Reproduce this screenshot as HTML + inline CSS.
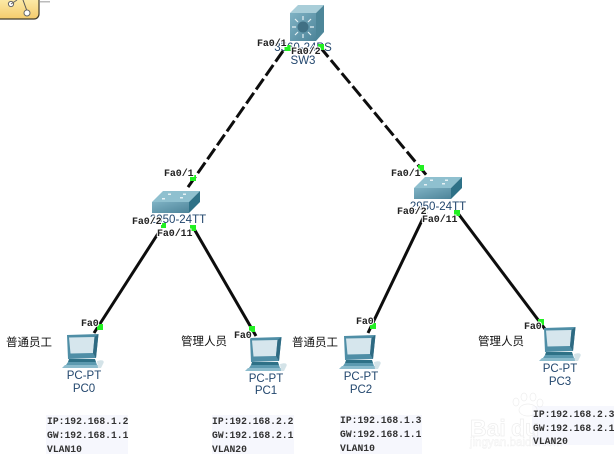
<!DOCTYPE html>
<html>
<head>
<meta charset="utf-8">
<style>
html,body{margin:0;padding:0;background:#fff;width:614px;height:464px;overflow:hidden}
svg{display:block}
.p{font:bold 10px "Liberation Mono",monospace;fill:#222;letter-spacing:-.1px;stroke:#fff;stroke-width:2px;paint-order:stroke}
.d{font:11.5px "Liberation Sans",sans-serif;fill:#24476e;text-anchor:middle}
.c{font:11.5px "Liberation Sans","Noto Sans CJK SC",sans-serif;fill:#111}
.i{font:bold 9.7px "Liberation Mono",monospace;fill:#333}
.w{font-family:"Liberation Sans",sans-serif;fill:#fff;stroke:#e2e2e2;stroke-width:.7}
</style>
</head>
<body>
<svg width="614" height="464" viewBox="0 0 614 464" xmlns="http://www.w3.org/2000/svg">
<defs>
<filter id="b" x="-5%" y="-5%" width="110%" height="110%"><feGaussianBlur stdDeviation=".3"/></filter>
<linearGradient id="fr" x1="0" y1="0" x2="1" y2="1"><stop offset="0" stop-color="#7fb2c4"/><stop offset="1" stop-color="#4d8499"/></linearGradient>
<linearGradient id="y" x1="0" y1="0" x2="0" y2="1"><stop offset="0" stop-color="#fff3b8"/><stop offset="1" stop-color="#f4cb6c"/></linearGradient>
<g id="pc">
<path d="M1 1 L32.500 0 L30 24 L2 25 Z" fill="#4f8ea6"/>
<path d="M3 3.500 L28.500 3 L27 19 L4.500 19.500 Z" fill="#d6e6ed"/>
<path d="M28.500 3 L32.500 0 L30 24 L27 19 Z" fill="#2e6a82"/>
<path d="M3 25 H29 L30 28 H2 Z" fill="#2f7187"/>
<path d="M2 28 H30 L31 31 H0 Z" fill="#5c9ab0"/>
<path d="M-1 31 H32 L34 34 H-4 Z" fill="#8cbccd"/>
<path d="M31 27 C37 25 39 27 37 30 L35 34 H32 Z" fill="#d4e3e8"/>
</g>
<g id="sw">
<path d="M0 11 L11 0 H48 L37 11 Z" fill="#8fc0cf"/>
<path d="M0 11 H37 V22 H0 Z" fill="url(#fr)"/>
<path d="M37 11 L48 0 V11 L37 22 Z" fill="#2f7187"/>
<g fill="#e6f1f4"><rect x="16" y="2.500" width="3" height="1.500"/><rect x="31" y="2.500" width="3" height="1.500"/><rect x="10" y="7" width="3" height="1.500"/><rect x="28" y="6" width="3" height="1.500"/></g>
</g>
</defs>
<g filter="url(#b)">
<rect x="-6" y="-6" width="45" height="25" rx="5" fill="url(#y)" stroke="#3f3a2c" stroke-width="1.2"/>
<path d="M23 0 L27 11" stroke="#555" fill="none"/>
<circle cx="27" cy="13" r="3" fill="#fff" stroke="#666"/>
<circle cx="11" cy="4" r="2.600" fill="#fff" stroke="#666"/>
<path d="M11 4 L17 0" stroke="#666"/>
<rect x="40" y="1" width="10" height="1.500" fill="#bbb"/>

<rect x="46" y="415" width="82" height="39" fill="#f6f7fd"/>
<rect x="212" y="415" width="82" height="39" fill="#f6f7fd"/>
<rect x="340" y="415" width="82" height="39" fill="#f6f7fd"/>
<rect x="532" y="406" width="82" height="39" fill="#f6f7fd"/>

<g opacity=".6">
<text class="w" x="470" y="436" font-size="23" font-weight="700">Bai</text>
<text class="w" x="511" y="436" font-size="23" font-weight="700">du</text>
<text class="w" x="470" y="446" font-size="11.500" style="stroke-width:.4">jingyan.baidu.com</text>
<g fill="#fff" stroke="#e2e2e2" stroke-width=".7">
<ellipse cx="516" cy="402" rx="3" ry="4"/><ellipse cx="524" cy="397" rx="3" ry="4"/><ellipse cx="533" cy="397" rx="3" ry="4"/><ellipse cx="540" cy="403" rx="3" ry="4"/>
<ellipse cx="528" cy="410" rx="9" ry="6"/>
</g>
</g>

<text class="d" x="303" y="51">3560-24PS</text>
<text class="d" x="303" y="64">SW3</text>
<text class="d" x="178" y="223">2950-24TT</text>
<text class="d" x="438" y="210">2950-24TT</text>

<g stroke="#111" stroke-width="3" fill="none">
<path d="M283 51 L186 190" stroke-dasharray="13 4"/>
<path d="M320 47 L428 177" stroke-dasharray="13 4"/>
<path d="M159 232 L94 333"/>
<path d="M193 227 L256 336"/>
<path d="M426 212 L368 333"/>
<path d="M457 212 L545 329"/>
</g>
<g fill="#20f020">
<rect x="284.500" y="45" width="6" height="6"/>
<rect x="318" y="44" width="6" height="6"/>
<rect x="190" y="175" width="6" height="6"/>
<rect x="418" y="165" width="6" height="6"/>
<rect x="161" y="223" width="5" height="5"/>
<rect x="190" y="225" width="6" height="6"/>
<rect x="422" y="208" width="4" height="5"/>
<rect x="454" y="210" width="6" height="6"/>
<rect x="97" y="324" width="6" height="6"/>
<rect x="249" y="326" width="6" height="6"/>
<rect x="370" y="323" width="6" height="6"/>
<rect x="538" y="319" width="6" height="6"/>
</g>

<path d="M290 13 L298 5 H324 L316 13 Z" fill="#a9ced9"/>
<path d="M316 13 L324 5 V32 L316 41 Z" fill="#4d8699"/>
<rect x="290" y="13" width="26" height="28" fill="url(#fr)"/>
<circle cx="303" cy="27" r="5.500" fill="#3f6f84"/>
<g stroke="#e4f0f4" stroke-width="1.2">
<path d="M303 16 V20 M303 34 V38 M292 27 H296 M310 27 H314 M295 19 L298 22 M308 32 L311 35 M311 19 L308 22 M298 32 L295 35"/>
</g>
<use href="#sw" x="152" y="191"/>
<use href="#sw" x="414" y="177"/>
<use href="#pc" x="66" y="334"/>
<use href="#pc" x="249" y="337"/>
<use href="#pc" x="343" y="335"/>
<use href="#pc" x="543" y="327"/>

<text class="p" x="257" y="46">Fa0/1</text>
<text class="p" x="291" y="54">Fa0/2</text>
<text class="p" x="164" y="176">Fa0/1</text>
<text class="p" x="132" y="224">Fa0/2</text>
<text class="p" x="157" y="236">Fa0/11</text>
<text class="p" x="391" y="176">Fa0/1</text>
<text class="p" x="397" y="214">Fa0/2</text>
<text class="p" x="422" y="222">Fa0/11</text>
<text class="p" x="81" y="326">Fa0</text>
<text class="p" x="234" y="338">Fa0</text>
<text class="p" x="356" y="324">Fa0</text>
<text class="p" x="524" y="329">Fa0</text>

<text class="d" x="84" y="379">PC-PT</text>
<text class="d" x="84" y="392">PC0</text>
<text class="d" x="266" y="382">PC-PT</text>
<text class="d" x="266" y="394">PC1</text>
<text class="d" x="361" y="380">PC-PT</text>
<text class="d" x="361" y="393">PC2</text>
<text class="d" x="560" y="372">PC-PT</text>
<text class="d" x="560" y="385">PC3</text>

<text class="c" x="6" y="346">普通员工</text>
<text class="c" x="181" y="345">管理人员</text>
<text class="c" x="292" y="346">普通员工</text>
<text class="c" x="478" y="345">管理人员</text>

<text class="i" x="47" y="424">IP:192.168.1.2</text>
<text class="i" x="47" y="438">GW:192.168.1.1</text>
<text class="i" x="47" y="452">VLAN10</text>
<text class="i" x="212" y="424">IP:192.168.2.2</text>
<text class="i" x="212" y="438">GW:192.168.2.1</text>
<text class="i" x="212" y="452">VLAN20</text>
<text class="i" x="340" y="423">IP:192.168.1.3</text>
<text class="i" x="340" y="437">GW:192.168.1.1</text>
<text class="i" x="340" y="451">VLAN10</text>
<text class="i" x="533" y="417">IP:192.168.2.3</text>
<text class="i" x="533" y="431">GW:192.168.2.1</text>
<text class="i" x="533" y="444">VLAN20</text>
</g>
</svg>
</body>
</html>
